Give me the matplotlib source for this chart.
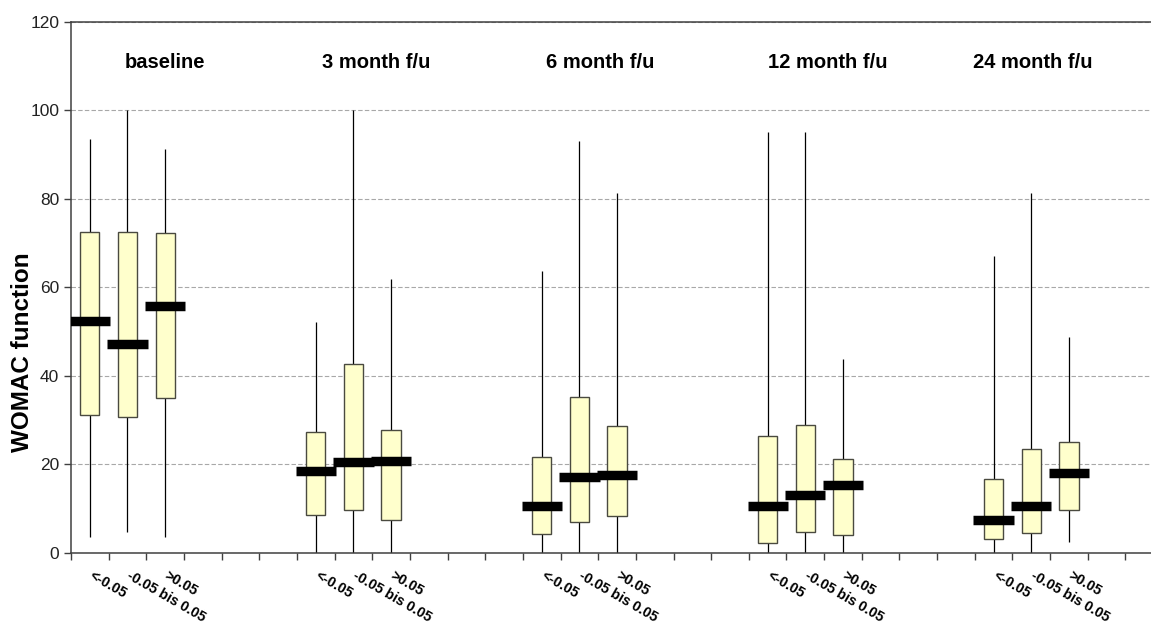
import numpy as np
import matplotlib.pyplot as plt
import matplotlib.transforms as mtransforms

plt.rcParams['font.family'] = ['Liberation Sans', 'DejaVu Sans']

groups = ["baseline", "3 month f/u", "6 month f/u", "12 month f/u", "24 month f/u"]
subgroups = ["<-0.05", "-0.05 bis 0.05", ">0.05"]

# per box: lower whisker, Q1, median, Q3, upper whisker
whisker_lo = [3.5, 4.6, 3.5, 0, 0, 0, 0, 0, 0, 0, 0, 0, 0, 0, 2.4]
q1 = [31.2, 30.6, 34.9, 8.5, 9.7, 7.3, 4.2, 6.9, 8.2, 2.3, 4.75, 3.9, 3.0, 4.5, 9.7]
median = [52.5, 47.1, 55.7, 18.5, 20.4, 20.8, 10.6, 17.1, 17.6, 10.5, 13.0, 15.2, 7.4, 10.6, 18.0]
q3 = [72.6, 72.6, 72.4, 27.2, 42.7, 27.8, 21.6, 35.1, 28.7, 26.4, 28.9, 21.3, 16.7, 23.5, 25.1]
whisker_hi = [93.6, 100, 91.2, 52.2, 100, 62, 63.6, 93, 81.3, 95.1, 95.1, 43.8, 67, 81.3, 48.7]

# group title x positions (in category units)
title_x = [2.0, 7.6, 13.55, 19.6, 25.05]

pos = np.concatenate([np.arange(3) + 6 * g for g in range(len(groups))])
labels = subgroups * len(groups)

fig = plt.figure(figsize=(11.51, 6.24), dpi=100)
ax = fig.add_axes([71 / 1151, 71.3 / 624, 1080 / 1151, 530.7 / 624])

q1 = np.array(q1)
q3 = np.array(q3)
ax.vlines(pos, whisker_lo, whisker_hi, color='black', linewidth=0.9, zorder=2)
ax.bar(pos, q3 - q1, bottom=q1, width=0.51, color='#ffffcc',
       edgecolor='#4a4a40', linewidth=1.0, zorder=3)
ax.hlines(median, pos - 0.535, pos + 0.535, color='black', linewidth=6.8, zorder=4)

for x, t in zip(title_x, groups):
    ax.text(x, 110.8, t, ha='center', va='center', fontsize=14.5, fontweight='bold')

ax.set_xlim(-0.5, 28.18)
ax.set_ylim(0, 120)
ax.set_yticks(np.arange(0, 121, 20))
ax.tick_params(axis='y', labelsize=12.5, labelcolor='#222222', length=5, width=1, color='#404040')
ax.yaxis.grid(True, color='#a8a8a8', linestyle=(0, (4, 2)), linewidth=0.8)
ax.set_axisbelow(True)

ax.set_xticks(np.arange(-0.5, 28.2, 1))
ax.set_xticklabels([])
ax.tick_params(axis='x', which='major', length=5, width=1, color='#404040')
ax.set_xticks(pos, labels, minor=True)
ax.tick_params(axis='x', which='minor', length=0, pad=11)
shift = mtransforms.ScaledTranslation(4 / 100, 0, fig.dpi_scale_trans)
for lab in ax.get_xticklabels(minor=True):
    lab.set_rotation(-30)
    lab.set_rotation_mode('anchor')
    lab.set_ha('left')
    lab.set_va('top')
    lab.set_fontsize(10.2)
    lab.set_fontweight('bold')
    lab.set_transform(lab.get_transform() + shift)

ax.set_ylabel("WOMAC function", fontsize=17.5, fontweight='bold')
ax.yaxis.set_label_coords(-0.034, 0.378)

for s in ['left', 'bottom', 'top']:
    ax.spines[s].set_color('#404040')
    ax.spines[s].set_linewidth(1.1)
ax.spines['right'].set_visible(False)

fig.savefig('out.png', dpi=100)
